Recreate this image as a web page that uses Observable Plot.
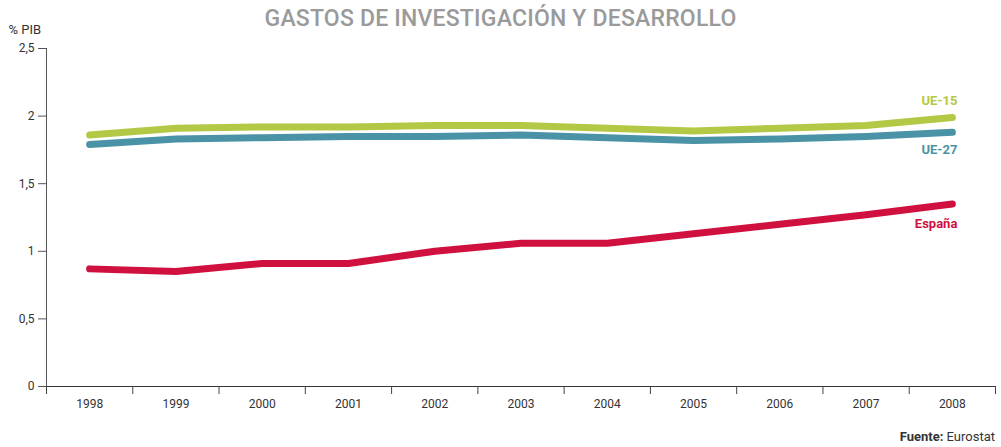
<!DOCTYPE html>
<html>
<head>
<meta charset="utf-8">
<script src="https://cdn.jsdelivr.net/npm/d3@7"></script>
<script src="https://cdn.jsdelivr.net/npm/@observablehq/plot@0.6"></script>
<style>
  html, body { margin: 0; padding: 0; background: #fff; }
  #wrap { position: relative; width: 1001px; height: 447px; overflow: hidden; font-family: Roboto, sans-serif; }
  #title { position: absolute; top: 5px; left: 0; width: 1001px; text-align: center; font-family: Roboto, sans-serif; font-weight: 500; font-size: 23px; line-height: 28px; color: #9a9a9a; letter-spacing: 0.2px; }
  #caption { position: absolute; top: 427px; right: 6px; font-size: 13px; line-height: 20px; color: #333; }
  #chart { position: absolute; top: 0; left: 0; }
</style>
</head>
<body>
<div id="wrap">
  <div id="chart"></div>
  <div id="title">GASTOS DE INVESTIGACIÓN Y DESARROLLO</div>
  <div id="caption"><b>Fuente:</b> Eurostat</div>
</div>
<script>
const years = [1998, 1999, 2000, 2001, 2002, 2003, 2004, 2005, 2006, 2007, 2008];
const ue15 = [1.86, 1.91, 1.92, 1.92, 1.93, 1.93, 1.91, 1.89, 1.91, 1.93, 1.99];
const ue27 = [1.79, 1.83, 1.84, 1.85, 1.85, 1.86, 1.84, 1.82, 1.83, 1.85, 1.88];
const espana = [0.87, 0.85, 0.91, 0.91, 1.00, 1.06, 1.06, 1.13, 1.20, 1.27, 1.35];
const seriesNames = ["UE-15", "UE-27", "España"];
const seriesColors = ["#b3c844", "#4a93a6", "#d0103f"];
const yTicks = [0, 0.5, 1, 1.5, 2, 2.5];
const yLabel = "% PIB";

const seriesValues = [ue15, ue27, espana];
const data = seriesNames.flatMap((name, i) =>
  years.map((year, j) => ({ name, year, value: seriesValues[i][j] })));
const lastPoints = seriesNames.map((name, i) => ({ name, year: years[years.length - 1], value: seriesValues[i][years.length - 1] }));
const boundaries = years.map(y => y - 0.5).concat([years[years.length - 1] + 0.5]);
const labelDy = { "UE-15": -17, "UE-27": 18, "España": 20 };

const fmt = d => String(d).replace(".", ",");

const chart = Plot.plot({
  width: 1001,
  height: 425,
  marginTop: 48,
  marginBottom: 39,
  marginLeft: 46,
  marginRight: 6,
  style: { fontFamily: "Roboto, sans-serif", fontSize: "12px", color: "#333", background: "transparent" },
  x: { domain: [years[0] - 0.5, years[years.length - 1] + 0.5] },
  y: { domain: [0, 2.5] },
  color: { domain: seriesNames, range: seriesColors },
  marks: [
    Plot.axisY({ ticks: yTicks, tickFormat: fmt, tickSize: 8, tickPadding: 4, label: null, stroke: "#555", fill: "#333", fontSize: 12 }),
    Plot.text([yLabel], { frameAnchor: "top-left", text: d => d, textAnchor: "start", dx: -38, dy: -24, fill: "#333", fontSize: 13 }),
    Plot.ruleX([years[0] - 0.5], { y1: 0, y2: 2.5, stroke: "#555", strokeWidth: 1 }),
    Plot.ruleY([0], { stroke: "#333", strokeWidth: 1.2 }),
    Plot.axisX({ ticks: boundaries, tickFormat: () => "", tickSize: 8, stroke: "#444", label: null }),
    Plot.axisX({ ticks: years, tickFormat: d => String(d), tickSize: 0, tickPadding: 13, label: null, fill: "#333", fontSize: 12 }),
    Plot.line(data, { x: "year", y: "value", z: "name", stroke: "name", strokeWidth: 7, strokeLinecap: "round", strokeLinejoin: "round", curve: "linear" }),
    ...lastPoints.map(p => Plot.text([p], { x: "year", y: "value", text: "name", fill: "name", textAnchor: "end", dx: 5, dy: labelDy[p.name], fontWeight: "bold", fontSize: 13 }))
  ]
});
document.getElementById("chart").appendChild(chart);
</script>
</body>
</html>
